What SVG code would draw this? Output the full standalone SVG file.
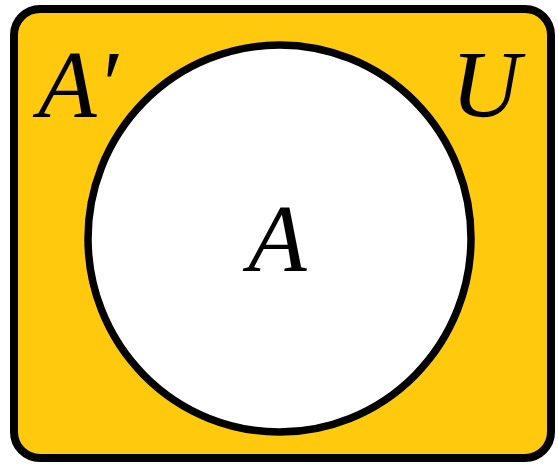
<svg xmlns="http://www.w3.org/2000/svg" width="558" height="465" viewBox="0 0 558 465">
<style>
.lbl{font-family:"Liberation Serif","Times New Roman",serif;font-style:italic;font-size:96px;fill:#000}
</style>
<rect width="558" height="465" fill="#fff"/>
<g id="universe">
<rect x="14" y="9" width="537" height="449" rx="26" ry="26" fill="#FFC90E" stroke="#000" stroke-width="8"/>
</g>
<g id="setA">
<ellipse cx="279.5" cy="238.5" rx="191.5" ry="193.5" fill="#fff" stroke="#000" stroke-width="7.5"/>
</g>
<g id="labels">
<text class="lbl" x="38" y="117">A′</text>
<text class="lbl" x="451" y="117">U</text>
<text class="lbl" x="248" y="271">A</text>
</g>
</svg>
